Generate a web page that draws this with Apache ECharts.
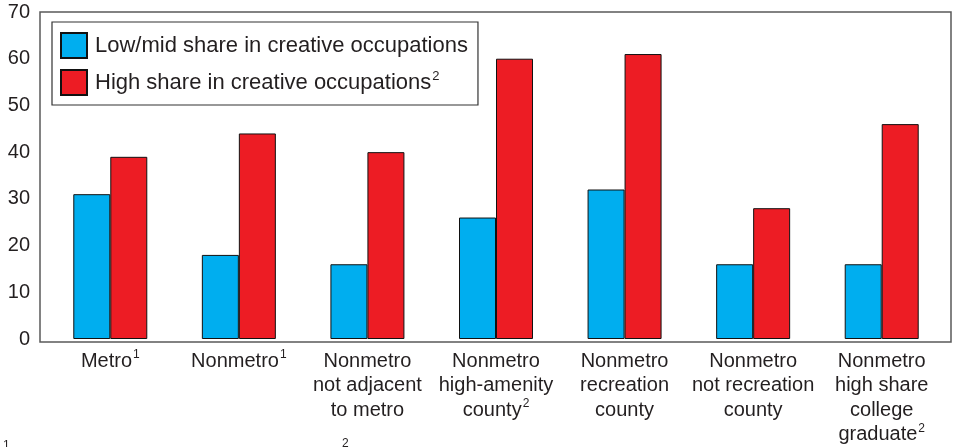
<!DOCTYPE html>
<html>
<head>
<meta charset="utf-8">
<script src="https://cdn.jsdelivr.net/npm/echarts@6/dist/echarts.min.js"></script>
<style>
html,body{margin:0;padding:0;background:#fff;}
#chart{width:956px;height:447px;}
</style>
</head>
<body>
<div id="chart"></div>
<script>
const categories = [
  'Metro',
  'Nonmetro',
  'Nonmetro\nnot adjacent\nto metro',
  'Nonmetro\nhigh-amenity\ncounty',
  'Nonmetro\nrecreation\ncounty',
  'Nonmetro\nnot recreation\ncounty',
  'Nonmetro\nhigh share\ncollege\ngraduate'
];
const categorySup = ['1', '1', '', '2', '', '', '2'];
const seriesNames = ['Low/mid share in creative occupations', 'High share in creative occupations'];
const seriesSup = ['', '2'];
const lowMid = [31, 18, 16, 26, 32, 16, 16];
const high = [39, 44, 40, 60, 61, 28, 46];
const yTicks = [0, 10, 20, 30, 40, 50, 60, 70];

const FONT = '"Liberation Sans", Arial, Helvetica, sans-serif';
const TXT = '#231f20';

const chart = echarts.init(document.getElementById('chart'));
chart.setOption({
  animation: false,
  backgroundColor: '#fff',
  textStyle: { fontFamily: FONT },
  grid: { left: 46, right: 10, top: 12, bottom: 105, containLabel: false },
  graphic: [
    { type: 'rect', z: -1, shape: { x: 40, y: 12, width: 911, height: 330 },
      style: { fill: 'none', stroke: '#5a5a5a', lineWidth: 1.5 } },
    { type: 'text', left: 3, top: 440, style: { text: '1', fontSize: 12, fill: TXT, fontFamily: FONT } },
    { type: 'text', left: 342, top: 438, style: { text: '2', fontSize: 12, fill: TXT, fontFamily: FONT } }
  ],
  legend: {
    orient: 'vertical',
    left: 52, top: 22,
    padding: [10, 10, 9, 8],
    itemGap: 10,
    itemWidth: 26, itemHeight: 25,
    borderColor: '#333', borderWidth: 1.2,
    backgroundColor: '#fff',
    icon: 'rect',
    data: seriesNames,
    formatter: function (name) {
      const i = seriesNames.indexOf(name);
      return '{t|' + name + '}' + (seriesSup[i] ? '{s|' + seriesSup[i] + '}' : '');
    },
    textStyle: {
      color: TXT, fontSize: 22, fontFamily: FONT, padding: [0, 0, 0, 3], lineHeight: 25,
      rich: {
        t: { fontSize: 22, color: TXT, fontFamily: FONT, lineHeight: 25 },
        s: { fontSize: 13, color: TXT, fontFamily: FONT, verticalAlign: 'top', padding: [0, 0, 9, 1], lineHeight: 25 }
      }
    }
  },
  xAxis: {
    type: 'category',
    data: categories,
    axisLine: { show: false },
    axisTick: { show: false },
    axisLabel: {
      interval: 0,
      margin: 10,
      color: TXT,
      fontSize: 20,
      lineHeight: 24.5,
      fontFamily: FONT,
      formatter: function (value, idx) {
        const lines = value.split('\n');
        return lines.map(function (l, k) {
          let s = '{t|' + l + '}';
          if (k === lines.length - 1 && categorySup[idx]) s += '{s|' + categorySup[idx] + '}';
          return s;
        }).join('\n');
      },
      rich: {
        t: { fontSize: 20, color: TXT, fontFamily: FONT, lineHeight: 24.5 },
        s: { fontSize: 12, color: TXT, fontFamily: FONT, verticalAlign: 'top', padding: [0, 0, 8, 1], lineHeight: 24.5 }
      }
    }
  },
  yAxis: {
    type: 'value',
    min: yTicks[0], max: yTicks[yTicks.length - 1], interval: 10,
    axisLine: { show: false },
    axisTick: { show: false },
    splitLine: { show: false },
    axisLabel: { color: TXT, fontSize: 20, fontFamily: FONT, margin: 16 }
  },
  series: [
    { name: seriesNames[0], type: 'bar', data: lowMid, barWidth: 37, barGap: '0%',
      itemStyle: { color: '#00AEEF', borderColor: '#111', borderWidth: 1 } },
    { name: seriesNames[1], type: 'bar', data: high, barWidth: 37, barGap: '0%',
      itemStyle: { color: '#ED1C24', borderColor: '#111', borderWidth: 1 } }
  ]
});
</script>
</body>
</html>
